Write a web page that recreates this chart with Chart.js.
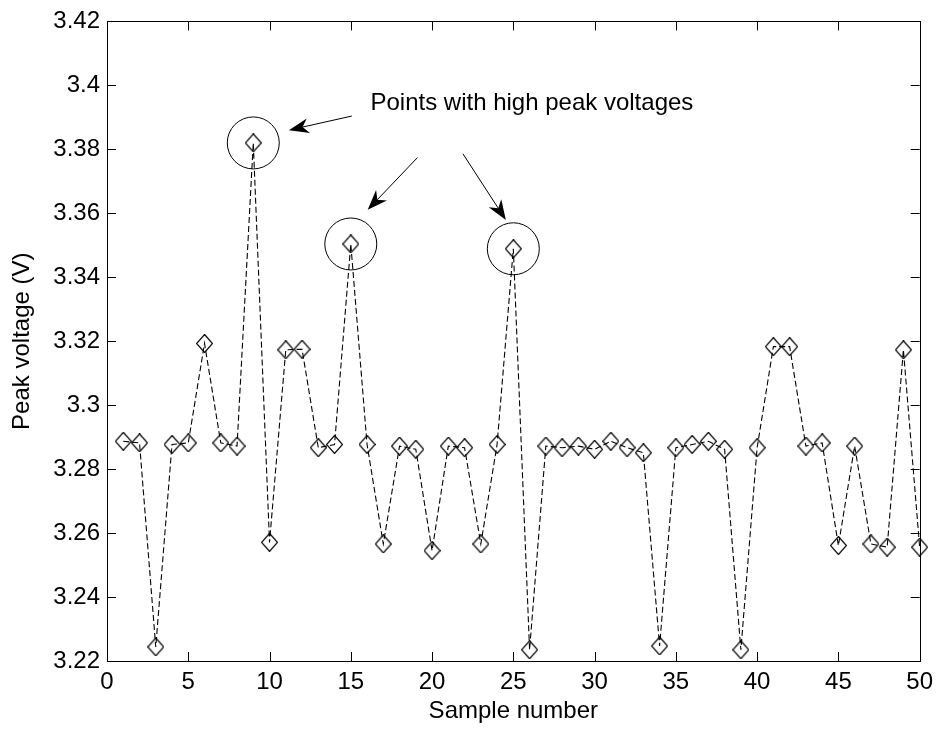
<!DOCTYPE html>
<html>
<head>
<meta charset="utf-8">
<title>Peak voltage per sample</title>
<script src="https://cdn.jsdelivr.net/npm/chart.js@4.4.0/dist/chart.umd.min.js"></script>
<style>
  html, body { margin: 0; padding: 0; background: #fff; }
  #wrap { width: 940px; height: 730px; position: relative; }
</style>
</head>
<body>
<div id="wrap"><canvas id="peakChart"></canvas></div>
<script>
// data
const sampleNumbers = [
  1, 2, 3, 4, 5, 6, 7, 8, 9, 10,
  11, 12, 13, 14, 15, 16, 17, 18, 19, 20,
  21, 22, 23, 24, 25, 26, 27, 28, 29, 30,
  31, 32, 33, 34, 35, 36, 37, 38, 39, 40,
  41, 42, 43, 44, 45, 46, 47, 48, 49, 50
];
const peakVoltages = [
  3.2887, 3.2882, 3.2244, 3.2877, 3.2882, 3.3193, 3.2882, 3.2872, 3.3820, 3.2571,
  3.3173, 3.3175, 3.2867, 3.2877, 3.3504, 3.2877, 3.2566, 3.2872, 3.2862, 3.2545,
  3.2872, 3.2867, 3.2566, 3.2877, 3.3489, 3.2235, 3.2872, 3.2867, 3.2872, 3.2862,
  3.2887, 3.2867, 3.2851, 3.2247, 3.2867, 3.2877, 3.2887, 3.2862, 3.2235, 3.2867,
  3.3183, 3.3183, 3.2872, 3.2882, 3.2561, 3.2872, 3.2566, 3.2556, 3.3173, 3.2556
];
const xTickValues = [0, 5, 10, 15, 20, 25, 30, 35, 40, 45, 50];
const yTickValues = [3.22, 3.24, 3.26, 3.28, 3.30, 3.32, 3.34, 3.36, 3.38, 3.40, 3.42];

// annotation, in data units
const highlightedSamples = [9, 15, 25];
const noteText = 'Points with high peak voltages';
const noteAt = [16.21, 3.3923];
const noteArrows = [
  [15.06, 3.3904, 11.19, 3.3860],
  [19.10, 3.3774, 16.04, 3.3611],
  [21.90, 3.3786, 24.54, 3.3579]
];

const FONT = '"Liberation Sans", Arial, sans-serif';
Chart.defaults.font.family = FONT;
Chart.defaults.font.size = 24;
Chart.defaults.color = '#000';

// hollow diamond marker, a little taller than wide
function makeDiamond() {
  const c = document.createElement('canvas');
  c.width = 17;
  c.height = 19;
  const g = c.getContext('2d');
  g.strokeStyle = '#000';
  g.lineWidth = 1.2;
  g.beginPath();
  g.moveTo(8.5, 0.5);
  g.lineTo(16.5, 9.5);
  g.lineTo(8.5, 18.5);
  g.lineTo(0.5, 9.5);
  g.closePath();
  g.stroke();
  return c;
}

function drawArrow(ctx, x1, y1, x2, y2) {
  const ang = Math.atan2(y2 - y1, x2 - x1);
  const len = 20, half = 7.5, notch = 14;
  const bx = x2 - Math.cos(ang) * notch, by = y2 - Math.sin(ang) * notch;
  ctx.beginPath();
  ctx.moveTo(x1, y1);
  ctx.lineTo(bx, by);
  ctx.stroke();
  const px = -Math.sin(ang), py = Math.cos(ang);
  const hx = x2 - Math.cos(ang) * len, hy = y2 - Math.sin(ang) * len;
  ctx.beginPath();
  ctx.moveTo(x2, y2);
  ctx.lineTo(hx + px * half, hy + py * half);
  ctx.lineTo(bx, by);
  ctx.lineTo(hx - px * half, hy - py * half);
  ctx.closePath();
  ctx.fill();
}

// MATLAB style frame: box, inward ticks, circles, arrows and note
const framePlugin = {
  id: 'matlabFrame',
  afterDraw(chart) {
    const { ctx, chartArea: a, scales: { x, y } } = chart;
    const tick = 9;
    ctx.save();
    ctx.strokeStyle = '#000';
    ctx.fillStyle = '#000';
    ctx.lineWidth = 1;

    ctx.strokeRect(Math.round(a.left) + 0.5, Math.round(a.top) + 0.5,
      Math.round(a.right - a.left), Math.round(a.bottom - a.top));

    ctx.beginPath();
    xTickValues.forEach(v => {
      const px = Math.round(x.getPixelForValue(v)) + 0.5;
      ctx.moveTo(px, a.bottom); ctx.lineTo(px, a.bottom - tick);
      ctx.moveTo(px, a.top); ctx.lineTo(px, a.top + tick);
    });
    yTickValues.forEach(v => {
      const py = Math.round(y.getPixelForValue(v)) + 0.5;
      ctx.moveTo(a.left, py); ctx.lineTo(a.left + tick, py);
      ctx.moveTo(a.right, py); ctx.lineTo(a.right - tick, py);
    });
    ctx.stroke();

    highlightedSamples.forEach(s => {
      const i = sampleNumbers.indexOf(s);
      ctx.beginPath();
      ctx.arc(x.getPixelForValue(s), y.getPixelForValue(peakVoltages[i]), 26, 0, Math.PI * 2);
      ctx.stroke();
    });

    noteArrows.forEach(([fx, fy, tx, ty]) => {
      drawArrow(ctx, x.getPixelForValue(fx), y.getPixelForValue(fy),
        x.getPixelForValue(tx), y.getPixelForValue(ty));
    });

    ctx.font = '24px ' + FONT;
    ctx.textAlign = 'left';
    ctx.textBaseline = 'alphabetic';
    ctx.fillText(noteText, x.getPixelForValue(noteAt[0]), y.getPixelForValue(noteAt[1]));
    ctx.restore();
  }
};

new Chart(document.getElementById('peakChart'), {
  type: 'line',
  data: {
    datasets: [{
      data: sampleNumbers.map((s, i) => ({ x: s, y: peakVoltages[i] })),
      borderColor: '#000',
      borderWidth: 1.1,
      borderDash: [6, 3],
      tension: 0,
      pointStyle: makeDiamond(),
      pointBackgroundColor: 'transparent',
      pointBorderColor: '#000',
      clip: false
    }]
  },
  options: {
    responsive: true,
    maintainAspectRatio: false,
    animation: false,
    events: [],
    layout: { padding: { top: 18, right: 15, left: 0, bottom: 0 } },
    plugins: { legend: { display: false }, tooltip: { enabled: false } },
    scales: {
      x: {
        type: 'linear',
        min: 0,
        max: 50,
        afterBuildTicks: s => { s.ticks = xTickValues.map(v => ({ value: v })); },
        afterFit: s => { s.height = 69; },
        grid: { drawOnChartArea: false, drawTicks: false },
        border: { display: false },
        ticks: { padding: 7, maxRotation: 0, callback: v => String(v) },
        title: { display: true, text: 'Sample number', padding: { top: 0, bottom: 4 } }
      },
      y: {
        min: 3.22,
        max: 3.42,
        afterBuildTicks: s => { s.ticks = yTickValues.map(v => ({ value: v })); },
        afterFit: s => { s.width = 107; },
        grid: { drawOnChartArea: false, drawTicks: false },
        border: { display: false },
        ticks: { padding: 7, callback: v => String(Number(v.toFixed(2))) },
        title: { display: true, text: 'Peak voltage (V)', padding: { top: 8, bottom: 0 } }
      }
    }
  },
  plugins: [framePlugin]
});
</script>
</body>
</html>
